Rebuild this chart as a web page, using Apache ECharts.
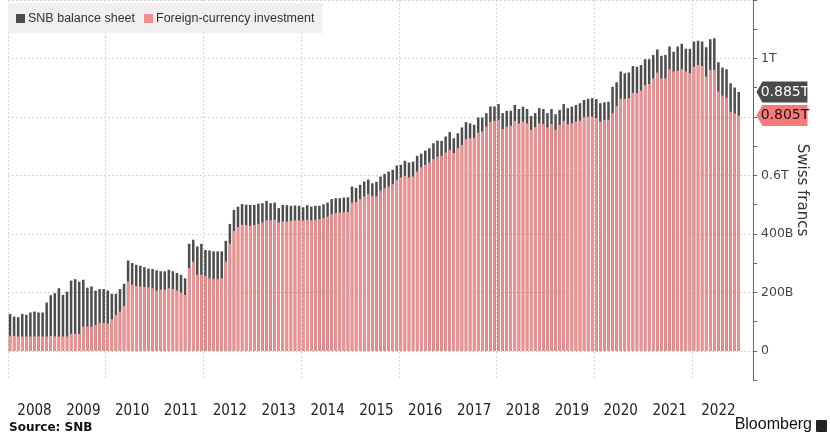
<!DOCTYPE html>
<html>
<head>
<meta charset="utf-8">
<script src="https://cdn.jsdelivr.net/npm/echarts@6/dist/echarts.min.js"></script>
<style>
    html, body { margin: 0; padding: 0; background: #fff; }
    #chart { width: 830px; height: 434px; }
</style>
</head>
<body>
<div id="chart"></div>
<script>
// month-end values, Dec 2007 .. Nov 2022, billions of francs
var yearLabels = ['2008', '2009', '2010', '2011', '2012', '2013', '2014', '2015',
    '2016', '2017', '2018', '2019', '2020', '2021', '2022'];
var monthLabels = ['01', '02', '03', '04', '05', '06', '07', '08', '09', '10', '11', '12'];

var balanceSheet = [
    126, 117, 115, 126, 123, 131, 134, 131, 131, 165,
    190, 197, 214, 191, 202, 240, 245, 236, 243, 216,
    220, 206, 211, 211, 206, 195, 195, 211, 229, 309,
    300, 294, 291, 286, 281, 280, 275, 272, 272, 277,
    272, 266, 260, 248, 366, 380, 357, 366, 345, 343,
    340, 340, 340, 376, 434, 482, 493, 502, 500, 499,
    499, 503, 505, 513, 505, 507, 488, 499, 498, 496,
    497, 496, 491, 498, 493, 496, 496, 501, 507, 519,
    522, 522, 524, 525, 562, 557, 568, 579, 586, 573,
    578, 596, 605, 613, 619, 634, 636, 650, 644, 647,
    667, 674, 685, 693, 710, 719, 718, 733, 748, 727,
    744, 764, 782, 778, 773, 798, 798, 813, 836, 836,
    844, 813, 821, 821, 841, 827, 835, 827, 803, 813,
    830, 827, 813, 827, 809, 824, 844, 830, 835, 841,
    847, 858, 862, 864, 861, 847, 850, 852, 903, 919,
    955, 949, 952, 974, 972, 978, 997, 997, 1012, 1031,
    1009, 1012, 1041, 1023, 1041, 1050, 1033, 1033, 1058, 1061,
    1058, 1038, 1066, 1069, 987, 969, 963, 915, 901, 885
];

var fxInvestment = [
    51, 51, 49, 49, 49, 49, 49, 49, 49, 49,
    51, 49, 49, 49, 49, 58, 58, 58, 83, 83,
    83, 88, 95, 95, 93, 108, 123, 134, 154, 237,
    226, 222, 220, 218, 217, 214, 206, 209, 209, 214,
    211, 206, 199, 191, 283, 305, 260, 260, 256, 248,
    245, 245, 248, 305, 366, 410, 423, 431, 430, 427,
    430, 434, 439, 446, 446, 448, 439, 442, 442, 444,
    446, 446, 446, 448, 446, 448, 450, 454, 459, 467,
    471, 473, 474, 475, 507, 509, 519, 528, 536, 530,
    528, 548, 556, 562, 570, 585, 593, 598, 593, 596,
    613, 628, 636, 644, 656, 664, 667, 678, 687, 676,
    693, 704, 724, 727, 727, 746, 750, 767, 783, 786,
    790, 759, 767, 770, 786, 778, 784, 778, 756, 765,
    778, 776, 764, 776, 756, 773, 786, 775, 778, 784,
    787, 799, 801, 801, 796, 784, 790, 790, 813, 837,
    862, 862, 864, 883, 881, 890, 909, 913, 932, 952,
    932, 932, 963, 955, 958, 963, 955, 949, 972, 978,
    974, 938, 961, 961, 887, 873, 866, 818, 812, 805
];

var yLabels = {0: '0', 200: '200B', 400: '400B', 600: '0.6T', 1000: '1T'};
var lastTags = ['0.885T', '0.805T'];

// category axis: Dec 2007 plus each month, with a little empty room at the end
var categories = ['2007-12'];
for (var i = 0; i < yearLabels.length; i++) {
    for (var j = 0; j < monthLabels.length; j++) {
        categories.push(yearLabels[i] + '-' + monthLabels[j]);
    }
}
categories.push('2023-01', '2023-02');
var lastCat = categories[categories.length - 1];

var GRAY = '#4d4d4d';
var PINK = '#f48d8e';
var font = '"DejaVu Sans", sans-serif';
var legendFont = '"Liberation Sans", sans-serif';
var narrow = '"Liberation Sans Narrow", "DejaVu Sans Condensed", "Liberation Sans", sans-serif';
var tagPath = 'path://M0,10 L7,0 L60,0 L60,20 L7,20 Z';

var chart = echarts.init(document.getElementById('chart'));
var option = {
    animation: false,
    backgroundColor: '#fff',
    textStyle: { fontFamily: font },
    legend: {
        left: 8,
        top: 3,
        padding: [9, 8, 8, 8],
        backgroundColor: '#efefef',
        itemWidth: 9,
        itemHeight: 9,
        itemGap: 9,
        icon: 'rect',
        textStyle: { fontSize: 12.5, color: '#333', fontFamily: legendFont, padding: [0, 0, 0, -2] },
        data: ['SNB balance sheet', 'Foreign-currency investment']
    },
    title: [{
        text: 'Source: SNB',
        left: 9,
        top: 422,
        padding: 0,
        textStyle: { fontSize: 12, fontWeight: 'bold', color: '#111', fontFamily: font }
    }, {
        text: 'Bloomberg',
        right: 18,
        top: 417,
        padding: 0,
        textStyle: { fontSize: 16, fontWeight: 'normal', color: '#111', fontFamily: '"Liberation Sans", sans-serif' }
    }],
    graphic: [{
        type: 'rect',
        right: 3,
        top: 420,
        shape: { width: 11, height: 12, r: 1 },
        style: { fill: '#222' }
    }],
    grid: { left: 8, right: 77, top: 0, bottom: 54 },
    xAxis: {
        type: 'category',
        data: categories,
        boundaryGap: true,
        axisLine: { show: false },
        axisTick: { show: false },
        axisLabel: {
            interval: function (index, value) {
                return value.slice(5) === '06';
            },
            formatter: function (value) {
                return value.slice(0, 4);
            },
            margin: 24,
            fontSize: 15,
            color: '#222',
            fontFamily: narrow
        },
        splitLine: {
            show: true,
            interval: function (index, value) {
                return value.slice(5) === '12' && parseInt(value.slice(0, 4), 10) % 2 === 1;
            },
            lineStyle: { color: '#d4d4d4', type: [2, 2], width: 1 }
        }
    },
    yAxis: {
        type: 'value',
        position: 'right',
        min: -100,
        max: 1200,
        interval: 100,
        name: 'Swiss francs',
        nameLocation: 'middle',
        nameRotate: -90,
        nameGap: 41,
        nameMoveOverlap: false,
        nameTextStyle: { fontSize: 15, color: '#333', fontFamily: font },
        axisLine: { show: true, lineStyle: { color: '#666', width: 1 } },
        axisTick: { show: true, length: 4, lineStyle: { color: '#666' } },
        axisLabel: {
            margin: 8,
            fontSize: 12.5,
            color: '#444',
            fontFamily: font,
            formatter: function (v) {
                return yLabels[v] !== undefined ? yLabels[v] : '';
            }
        },
        splitLine: {
            show: true,
            lineStyle: { color: ['rgba(0,0,0,0)', '#d4d4d4'], type: [2, 2], width: 1 }
        }
    },
    series: [{
        name: 'SNB balance sheet',
        type: 'bar',
        data: balanceSheet,
        barWidth: '62%',
        barGap: '-100%',
        itemStyle: { color: GRAY },
        z: 2,
        markPoint: {
            symbol: tagPath,
            symbolSize: [51, 21],
            symbolKeepAspect: false,
            symbolOffset: [31, 0],
            itemStyle: { color: '#4a4a4a' },
            label: {
                show: true,
                position: 'inside',
                offset: [3, 0],
                color: '#fff',
                fontSize: 14,
                fontFamily: font,
                formatter: lastTags[0]
            },
            data: [{ coord: [lastCat, balanceSheet[balanceSheet.length - 1]] }]
        }
    }, {
        name: 'Foreign-currency investment',
        type: 'bar',
        data: fxInvestment,
        barWidth: '62%',
        barGap: '-100%',
        itemStyle: { color: PINK },
        z: 3,
        markPoint: {
            symbol: tagPath,
            symbolSize: [51, 21],
            symbolKeepAspect: false,
            symbolOffset: [31, 0],
            itemStyle: { color: '#f47b7b' },
            label: {
                show: true,
                position: 'inside',
                offset: [3, 0],
                color: '#2a1010',
                fontSize: 14,
                fontFamily: font,
                formatter: lastTags[1]
            },
            data: [{ coord: [lastCat, fxInvestment[fxInvestment.length - 1]] }]
        }
    }]
};
chart.setOption(option);
</script>
</body>
</html>
